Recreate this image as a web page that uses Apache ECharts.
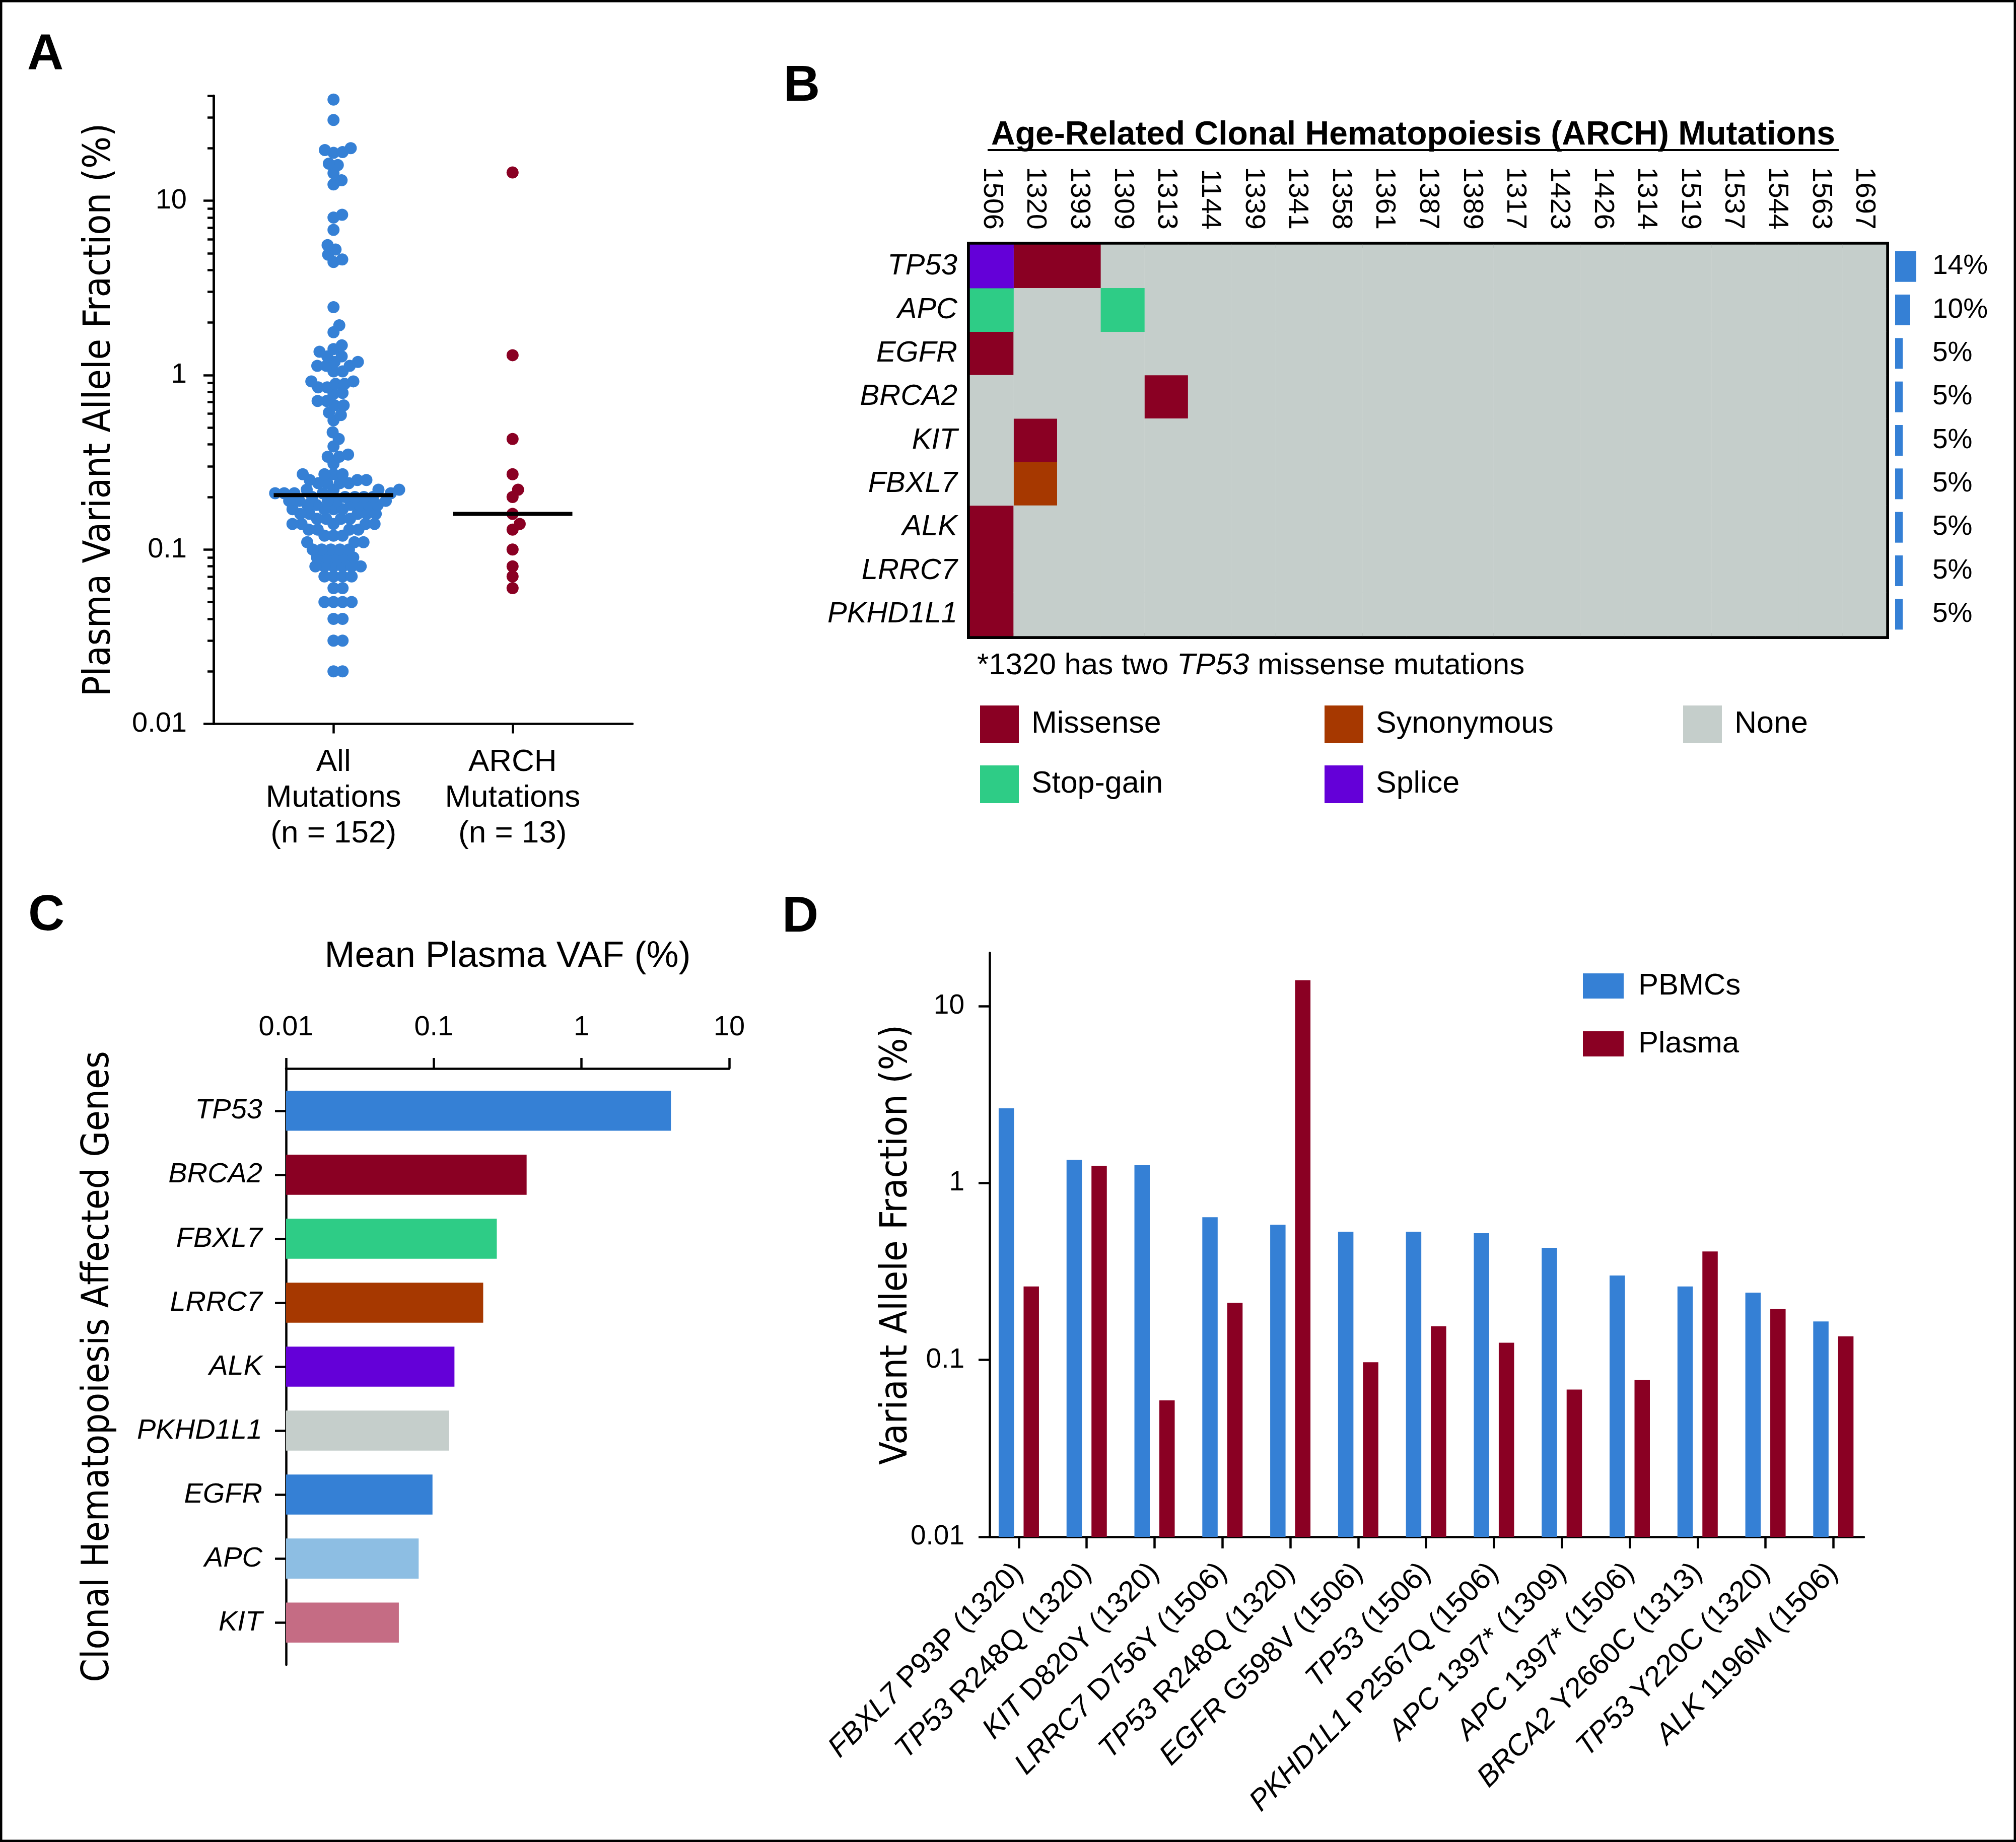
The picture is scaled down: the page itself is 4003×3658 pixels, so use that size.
<!DOCTYPE html>
<html>
<head>
<meta charset="utf-8">
<title>ARCH mutations</title>
<script src="https://cdn.jsdelivr.net/npm/echarts@6/dist/echarts.min.js"></script>
<style>
    html, body { margin: 0; padding: 0; background: #fff; }
    #chart { width: 4003px; height: 3658px; }
</style>
</head>
<body>
<div id="chart"></div>
<script>
    /* colours and fonts */
    var BLUE = '#3580d5', RED = '#8a0023', GREEN = '#2ecc86', ORANGE = '#a63800',
        PURPLE = '#6400d8', GRAY = '#c5cecb', LIGHTBLUE = '#8dbee3', PINK = '#c56c84';
    var SANS = '"Liberation Sans", Arial, sans-serif';
    var NARROW = '"Liberation Sans Narrow", "Arial Narrow", "DejaVu Sans Condensed", sans-serif';

    /* A: plasma VAF (%) of every mutation */
    var groupNames = ['All\nMutations', 'ARCH\nMutations'];
    var allVaf = [
        38, 29, 20, 19.5, 19, 18.8, 16.3, 16, 14.4, 13.1, 12.4, 8.3, 8.0, 6.8, 5.56, 5.25, 4.9, 4.6, 4.45,
        2.45, 1.93, 1.76, 1.48, 1.41, 1.36, 1.28, 1.28, 1.19, 1.19, 1.13, 1.13, 1.13, 1.05, 1.05,
        0.92, 0.92, 0.89, 0.89, 0.85, 0.85, 0.79, 0.78, 0.71, 0.71, 0.67, 0.67, 0.61, 0.59, 0.55,
        0.47, 0.43, 0.39, 0.35, 0.34, 0.34, 0.31,
        0.27, 0.27, 0.27, 0.27, 0.25, 0.25, 0.25, 0.24, 0.24, 0.24, 0.24,
        0.22, 0.22, 0.22, 0.22, 0.21, 0.21, 0.21, 0.21, 0.21, 0.2, 0.2, 0.2, 0.2, 0.2,
        0.19, 0.19, 0.19, 0.19, 0.19, 0.18, 0.18, 0.18, 0.18, 0.18, 0.18, 0.17, 0.17, 0.17, 0.17,
        0.16, 0.16, 0.16, 0.16, 0.16, 0.15, 0.15, 0.15, 0.15, 0.14, 0.14, 0.14, 0.14, 0.14,
        0.13, 0.13, 0.13, 0.13, 0.12, 0.12, 0.12, 0.11, 0.11, 0.11, 0.1, 0.1, 0.1, 0.1, 0.1,
        0.09, 0.09, 0.09, 0.09, 0.09, 0.08, 0.08, 0.08, 0.08, 0.08, 0.08, 0.07, 0.07, 0.07, 0.07,
        0.06, 0.06, 0.05, 0.05, 0.05, 0.05, 0.04, 0.04, 0.03, 0.03, 0.02, 0.02
    ];
    var archVaf = [14.5, 1.3, 0.43, 0.27, 0.22, 0.2, 0.16, 0.14, 0.13, 0.1, 0.08, 0.07, 0.06];
    var vafTicks = [0.01, 0.1, 1, 10];
    var vafMinorTicks = [0.02, 0.03, 0.04, 0.05, 0.06, 0.07, 0.08, 0.09, 0.2, 0.3, 0.4, 0.5, 0.6, 0.7, 0.8, 0.9,
        2, 3, 4, 5, 6, 7, 8, 9, 20, 30, 40];

    /* B: ARCH mutation matrix */
    var samples = ['1506', '1320', '1393', '1309', '1313', '1144', '1339', '1341', '1358', '1361', '1387',
        '1389', '1317', '1423', '1426', '1314', '1519', '1537', '1544', '1563', '1697'];
    var genesB = ['TP53', 'APC', 'EGFR', 'BRCA2', 'KIT', 'FBXL7', 'ALK', 'LRRC7', 'PKHD1L1'];
    var mutTypes = ['Missense', 'Synonymous', 'None', 'Stop-gain', 'Splice'];
    var mutColors = [RED, ORANGE, GRAY, GREEN, PURPLE];
    var mutCalls = [
        ['TP53', '1506', 'Splice'], ['TP53', '1320', 'Missense'], ['TP53', '1393', 'Missense'],
        ['APC', '1506', 'Stop-gain'], ['APC', '1309', 'Stop-gain'], ['EGFR', '1506', 'Missense'],
        ['BRCA2', '1313', 'Missense'], ['KIT', '1320', 'Missense'], ['FBXL7', '1320', 'Synonymous'],
        ['ALK', '1506', 'Missense'], ['LRRC7', '1506', 'Missense'], ['PKHD1L1', '1506', 'Missense']
    ];
    var genePct = [14, 10, 5, 5, 5, 5, 5, 5, 5];

    /* C: mean plasma VAF per gene */
    var genesC = ['TP53', 'BRCA2', 'FBXL7', 'LRRC7', 'ALK', 'PKHD1L1', 'EGFR', 'APC', 'KIT'];
    var meanVaf = [4.03, 0.425, 0.267, 0.216, 0.138, 0.127, 0.098, 0.079, 0.058];
    var geneColorsC = [BLUE, RED, GREEN, ORANGE, PURPLE, GRAY, BLUE, LIGHTBLUE, PINK];

    /* D: PBMC vs plasma VAF */
    var mutLabels = ['FBXL7 P93P (1320)', 'TP53 R248Q (1320)', 'KIT D820Y (1320)', 'LRRC7 D756Y (1506)',
        'TP53 R248Q (1320)', 'EGFR G598V (1506)', 'TP53 (1506)', 'PKHD1L1 P2567Q (1506)', 'APC 1397* (1309)',
        'APC 1397* (1506)', 'BRCA2 Y2660C (1313)', 'TP53 Y220C (1320)', 'ALK 1196M (1506)'];
    var pbmcVaf = [2.64, 1.35, 1.26, 0.64, 0.58, 0.53, 0.53, 0.52, 0.43, 0.30, 0.26, 0.24, 0.165];
    var plasmaVaf = [0.26, 1.25, 0.059, 0.21, 14.0, 0.097, 0.155, 0.125, 0.068, 0.077, 0.41, 0.194, 0.136];

    /* layout */
    var gA = {left: 424, top: 190, width: 832, height: 1247.5};
    var gB = {left: 1926, top: 486, width: 1819, height: 777};
    var gBp = {left: 3763, top: 486, width: 42, height: 777};
    var gC = {left: 568, top: 2122, width: 880, height: 1184};
    var gD = {left: 1965, top: 1892, width: 1736, height: 1160};
    var AX = [0.33, 2.67], AY = [0.01, 40];
    var LINE = {color: '#000', width: 4.5};

    // beeswarm offsets, computed in pixels then turned back into x units
    function swarm(values, center, diam) {
        var pxPerX = gA.width / (AX[1] - AX[0]);
        var pxPerDec = gA.height / Math.log10(AY[1] / AY[0]);
        var pts = values.map(function (v) { return {v: v, y: Math.log10(v) * pxPerDec}; });
        pts.sort(function (a, b) { return a.y - b.y; });
        var placed = [];
        pts.forEach(function (p) {
            var cands = [0];
            placed.forEach(function (q) {
                var dy = p.y - q.y;
                if (Math.abs(dy) < diam) {
                    var dx = Math.sqrt(diam * diam - dy * dy);
                    cands.push(q.x + dx, q.x - dx);
                }
            });
            cands.sort(function (a, b) { return Math.abs(a) - Math.abs(b); });
            for (var i = 0; i < cands.length; i++) {
                var c = cands[i];
                var ok = placed.every(function (q) {
                    return (q.x - c) * (q.x - c) + (q.y - p.y) * (q.y - p.y) >= diam * diam - 0.01;
                });
                if (ok) { p.x = c; break; }
            }
            placed.push(p);
        });
        return placed.map(function (p) { return [center + p.x / pxPerX, p.v]; });
    }

    function median(arr) {
        var s = arr.slice().sort(function (a, b) { return a - b; });
        var m = Math.floor(s.length / 2);
        return s.length % 2 ? s[m] : (s[m - 1] + s[m]) / 2;
    }

    var groupCounts = [allVaf.length, archVaf.length];
    var medAll = median(allVaf), medArch = median(archVaf);

    // heatmap: one series per mutation type so the legend can list them
    var heatSeries = mutTypes.map(function (t, k) {
        var data = [];
        genesB.forEach(function (g, r) {
            samples.forEach(function (s, c) {
                var call = 'None';
                mutCalls.forEach(function (m) { if (m[0] === g && m[1] === s) call = m[2]; });
                if (call === t) data.push([c, r, 1]);
            });
        });
        return {
            name: t, type: 'heatmap', xAxisIndex: 1, yAxisIndex: 2, data: data,
            itemStyle: {color: mutColors[k], borderWidth: 0}, emphasis: {disabled: true}
        };
    });

    function dBar(shift) {
        return function (params, api) {
            var x = api.value(0), v = api.value(1);
            var top = api.coord([x, v]), base = api.coord([x, 0.01]);
            return {
                type: 'rect',
                shape: {x: top[0] + shift - 15.25, y: top[1], width: 30.5, height: base[1] - top[1]},
                style: {fill: api.visual('color')}
            };
        };
    }

    var legendBase = {
        orient: 'vertical', padding: 0, selectedMode: false, icon: 'rect',
        itemWidth: 77, itemHeight: 75, itemGap: 44,
        textStyle: {color: '#000', fontFamily: SANS, fontSize: 61, padding: [0, 0, 0, 20]}
    };
    var noZero = {onZero: false, lineStyle: LINE};

    var chart = echarts.init(document.getElementById('chart'));
    chart.setOption({
        animation: false,
        backgroundColor: '#fff',
        grid: [
            {left: gA.left, top: gA.top, width: gA.width, height: gA.height},
            {left: gB.left, top: gB.top, width: gB.width, height: gB.height,
                show: true, borderColor: '#000', borderWidth: 12, backgroundColor: 'transparent'},
            {left: gBp.left, top: gBp.top, width: gBp.width, height: gBp.height},
            {left: gC.left, top: gC.top, width: gC.width, height: gC.height},
            {left: gD.left, top: gD.top, width: gD.width, height: gD.height}
        ],
        legend: [
            echarts.util.merge({data: ['Missense', 'Stop-gain'], left: 1946, top: 1401}, legendBase),
            echarts.util.merge({data: ['Synonymous', 'Splice'], left: 2630, top: 1401}, legendBase),
            echarts.util.merge({data: ['None'], left: 3342, top: 1401}, legendBase),
            {
                data: ['PBMCs', 'Plasma'], left: 3143, top: 1928, orient: 'vertical', padding: 0,
                selectedMode: false, icon: 'rect', itemWidth: 81, itemHeight: 50, itemGap: 55,
                textStyle: {color: '#000', fontFamily: SANS, fontSize: 60, padding: [0, 0, 0, 24]}
            }
        ],
        xAxis: [
            {   // A
                type: 'value', gridIndex: 0, min: AX[0], max: AX[1],
                axisLine: noZero, splitLine: {show: false},
                axisTick: {customValues: [1, 2], length: 19, lineStyle: LINE},
                axisLabel: {
                    customValues: [1, 2], margin: 41, fontSize: 62, lineHeight: 71, color: '#000', fontFamily: SANS,
                    formatter: function (v) {
                        var i = Math.round(v) - 1;
                        return groupNames[i] + '\n(n = ' + groupCounts[i] + ')';
                    }
                }
            },
            {   // B heatmap
                type: 'category', gridIndex: 1, position: 'top', data: samples,
                axisLine: {show: false}, axisTick: {show: false},
                axisLabel: {rotate: 90, margin: 30, fontSize: 56, interval: 0, color: '#000', fontFamily: SANS,
                    padding: [0, 0, 34, 0]}
            },
            {type: 'value', gridIndex: 2, min: 0, max: 14, show: false},
            {   // C
                type: 'log', gridIndex: 3, position: 'top', min: 0.01, max: 10,
                axisLine: noZero, splitLine: {show: false},
                axisTick: {length: 21, lineStyle: LINE},
                axisLabel: {margin: 53, fontSize: 56, color: '#000', fontFamily: SANS},
                name: 'Mean Plasma VAF (%)', nameLocation: 'middle', nameGap: 186, nameMoveOverlap: false,
                nameTextStyle: {fontSize: 72, color: '#000', fontFamily: SANS}
            },
            {   // D
                type: 'value', gridIndex: 4, min: -0.43, max: 12.45,
                axisLine: noZero, splitLine: {show: false},
                axisTick: {customValues: mutLabels.map(function (s, i) { return i; }), length: 23, lineStyle: LINE},
                axisLabel: {
                    customValues: mutLabels.map(function (s, i) { return i; }),
                    rotate: 45, margin: 62, fontSize: 58, color: '#000', fontFamily: SANS,
                    formatter: function (v) {
                        var s = mutLabels[Math.round(v)], k = s.indexOf(' ');
                        return '{i|' + s.slice(0, k) + '}' + s.slice(k);
                    },
                    rich: {i: {fontStyle: 'italic', fontSize: 58, color: '#000', fontFamily: SANS}}
                }
            }
        ],
        yAxis: [
            {   // A
                type: 'log', gridIndex: 0, position: 'left', min: AY[0], max: AY[1],
                axisLine: noZero, splitLine: {show: false},
                axisTick: {customValues: vafTicks, length: 20, lineStyle: LINE},
                axisLabel: {customValues: vafTicks, margin: 53, fontSize: 56, color: '#000', fontFamily: SANS},
                name: 'Plasma Variant Allele Fraction (%)', nameLocation: 'middle', nameGap: 188,
                nameMoveOverlap: false,
                nameTextStyle: {fontSize: 75, color: '#000', fontFamily: NARROW}
            },
            {   // A minor ticks
                type: 'log', gridIndex: 0, position: 'left', offset: 0, min: AY[0], max: AY[1],
                axisLine: noZero, splitLine: {show: false}, axisLabel: {show: false},
                axisTick: {customValues: vafMinorTicks, length: 12, lineStyle: {color: '#000', width: 4.5}}
            },
            {   // B heatmap
                type: 'category', gridIndex: 1, inverse: true, data: genesB,
                axisLine: {show: false}, axisTick: {show: false},
                axisLabel: {margin: 25, fontSize: 58, fontStyle: 'italic', color: '#000', fontFamily: SANS}
            },
            {   // B percentages
                type: 'category', gridIndex: 2, inverse: true, position: 'right', data: genesB,
                axisLine: {show: false}, axisTick: {show: false},
                axisLabel: {
                    margin: 32, fontSize: 55, color: '#000', fontFamily: SANS,
                    formatter: function (v, i) { return genePct[i] + '%'; }
                }
            },
            {   // C
                type: 'value', gridIndex: 3, inverse: true, min: -0.66, max: 8.66,
                axisLine: noZero, splitLine: {show: false},
                axisTick: {customValues: genesC.map(function (g, i) { return i; }), length: 22, lineStyle: LINE},
                axisLabel: {
                    customValues: genesC.map(function (g, i) { return i; }),
                    margin: 47, fontSize: 56, fontStyle: 'italic', color: '#000', fontFamily: SANS,
                    formatter: function (v) { return genesC[Math.round(v)]; }
                },
                name: 'Clonal Hematopoiesis Affected Genes', nameLocation: 'middle', nameGap: 335,
                nameMoveOverlap: false,
                nameTextStyle: {fontSize: 74, color: '#000', fontFamily: NARROW}
            },
            {   // D
                type: 'log', gridIndex: 4, min: 0.01, max: 20,
                axisLine: noZero, splitLine: {show: false},
                axisTick: {customValues: vafTicks, length: 22, lineStyle: LINE},
                axisLabel: {customValues: vafTicks, margin: 50, fontSize: 55, color: '#000', fontFamily: SANS},
                name: 'Variant Allele Fraction (%)', nameLocation: 'middle', nameGap: 147,
                nameMoveOverlap: false,
                nameTextStyle: {fontSize: 75, color: '#000', fontFamily: NARROW}
            }
        ],
        series: [
            {
                name: 'All', type: 'scatter', xAxisIndex: 0, yAxisIndex: 0, symbolSize: 24,
                itemStyle: {color: BLUE, opacity: 1}, data: swarm(allVaf, 1, 18)
            },
            {
                name: 'ARCH', type: 'scatter', xAxisIndex: 0, yAxisIndex: 0, symbolSize: 24,
                itemStyle: {color: RED, opacity: 1}, data: swarm(archVaf, 2, 18)
            },
            {
                type: 'line', xAxisIndex: 0, yAxisIndex: 0, z: 5, symbol: 'none',
                lineStyle: {color: '#000', width: 8}, data: [[1 - 0.334, medAll], [1 + 0.334, medAll]]
            },
            {
                type: 'line', xAxisIndex: 0, yAxisIndex: 0, z: 5, symbol: 'none',
                lineStyle: {color: '#000', width: 8}, data: [[2 - 0.334, medArch], [2 + 0.334, medArch]]
            }
        ].concat(heatSeries).concat([
            {
                type: 'bar', xAxisIndex: 2, yAxisIndex: 3, data: genePct, barWidth: 61,
                itemStyle: {color: BLUE}
            },
            {
                type: 'custom', xAxisIndex: 3, yAxisIndex: 4,
                data: meanVaf.map(function (v, i) { return [v, i]; }),
                renderItem: function (params, api) {
                    var i = api.value(1);
                    var p0 = api.coord([0.01, i]), p1 = api.coord([api.value(0), i]);
                    var h = Math.abs(api.coord([0.01, i + 1])[1] - p0[1]) * 0.626;
                    return {
                        type: 'rect',
                        shape: {x: p0[0], y: p0[1] - h / 2, width: p1[0] - p0[0], height: h},
                        style: {fill: geneColorsC[i]}
                    };
                }
            },
            {
                name: 'PBMCs', type: 'custom', xAxisIndex: 4, yAxisIndex: 5, itemStyle: {color: BLUE},
                data: pbmcVaf.map(function (v, i) { return [i, v]; }), renderItem: dBar(-24.75)
            },
            {
                name: 'Plasma', type: 'custom', xAxisIndex: 4, yAxisIndex: 5, itemStyle: {color: RED},
                data: plasmaVaf.map(function (v, i) { return [i, v]; }), renderItem: dBar(24.75)
            }
        ]),
        graphic: [
            {type: 'rect', shape: {x: 2.25, y: 2.25, width: 3998.5, height: 3653.5},
                style: {fill: null, stroke: '#000', lineWidth: 4.5}},
            {type: 'text', x: 54, y: 110, style: {text: 'A', fontSize: 100, fontWeight: 'bold', fontFamily: SANS,
                fill: '#000', align: 'left', verticalAlign: 'middle'}},
            {type: 'text', x: 1556, y: 172, style: {text: 'B', fontSize: 100, fontWeight: 'bold', fontFamily: SANS,
                fill: '#000', align: 'left', verticalAlign: 'middle'}},
            {type: 'text', x: 56, y: 1819, style: {text: 'C', fontSize: 100, fontWeight: 'bold', fontFamily: SANS,
                fill: '#000', align: 'left', verticalAlign: 'middle'}},
            {type: 'text', x: 1553, y: 1822, style: {text: 'D', fontSize: 100, fontWeight: 'bold', fontFamily: SANS,
                fill: '#000', align: 'left', verticalAlign: 'middle'}},
            {type: 'text', x: 2806, y: 269, style: {text: 'Age-Related Clonal Hematopoiesis (ARCH) Mutations',
                fontSize: 66, fontWeight: 'bold', fontFamily: SANS, fill: '#000', align: 'center', verticalAlign: 'middle'}},
            {type: 'rect', shape: {x: 1961, y: 296, width: 1690, height: 4}, style: {fill: '#000'}},
            {type: 'text', x: 1940, y: 1322, style: {text: '*1320 has two {i|TP53} missense mutations',
                fontSize: 60, fontFamily: SANS, fill: '#000', align: 'left', verticalAlign: 'middle',
                rich: {i: {fontStyle: 'italic', fontSize: 60, fontFamily: SANS, fill: '#000'}}}}
        ]
    });
</script>
</body>
</html>
